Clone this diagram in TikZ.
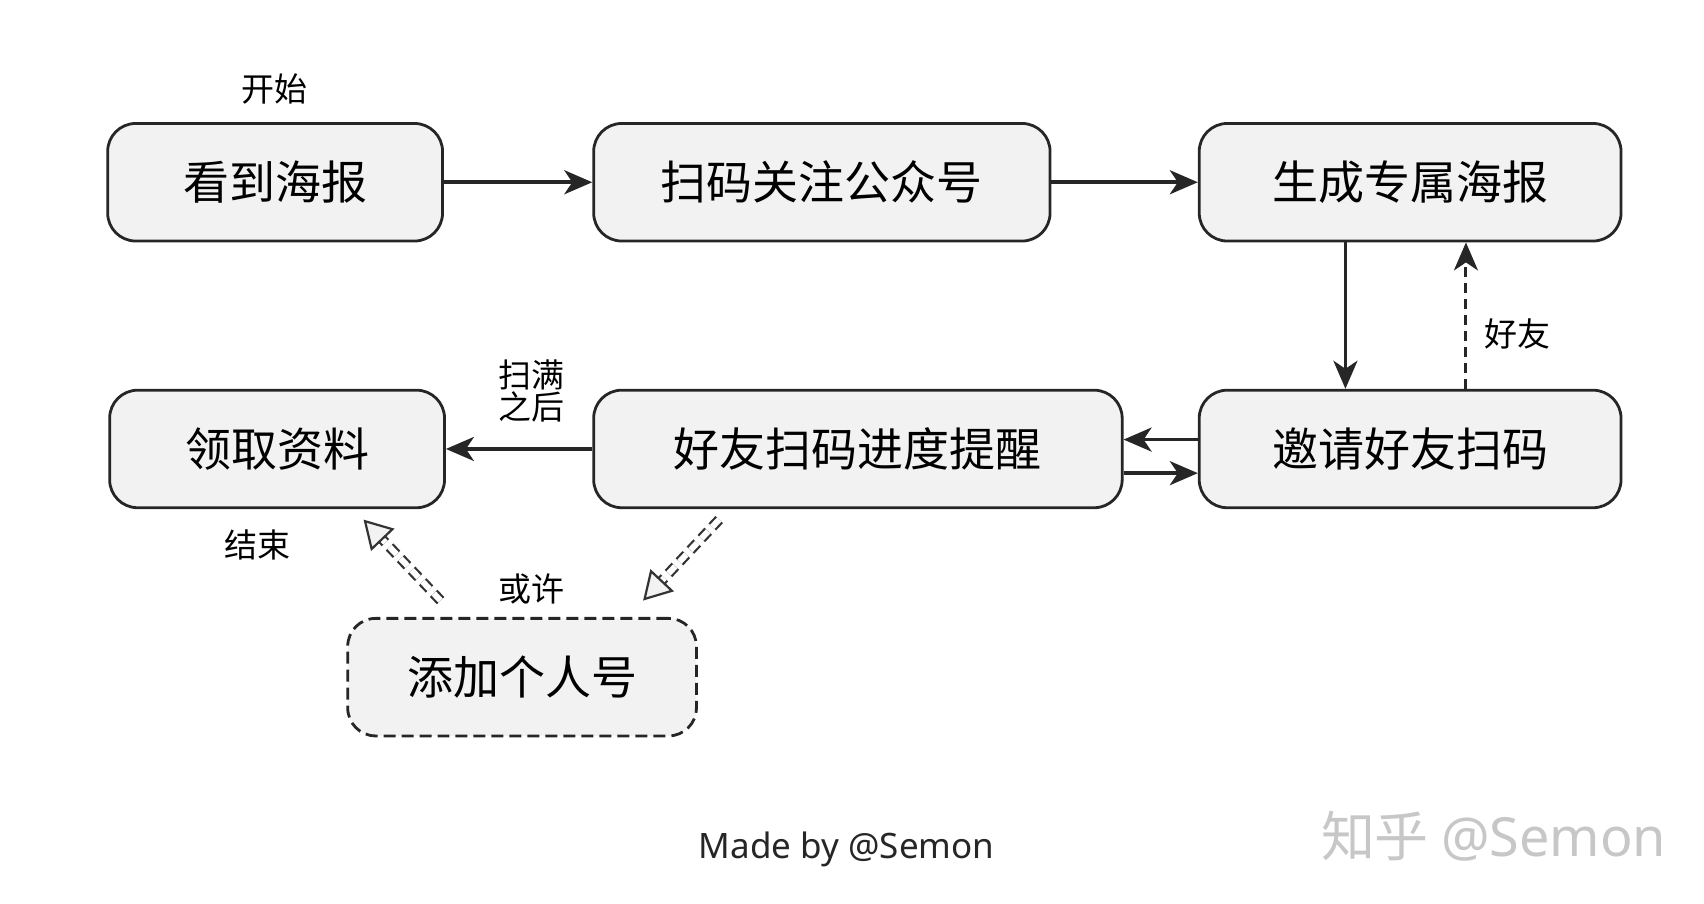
\documentclass[tikz,border=0pt]{standalone}
\usepackage{fontspec}
\setmainfont{Noto Sans CJK SC}
\setsansfont{Noto Sans}
\usetikzlibrary{arrows.meta}
\begin{document}
\begin{tikzpicture}[x=0.494pt,y=-0.494pt,
 box/.style={draw=black!85,line width=1.4pt,rounded corners=14pt,fill=black!5,minimum width=#1*0.494pt,minimum height=119*0.494pt,font=\fontsize{23}{25}\selectfont},
 lab/.style={font=\fontsize{16.5}{18}\selectfont,align=center,inner sep=1pt},
 arr/.style={line width=1.8pt,draw=black!85,-{Stealth[length=14pt,width=12pt,inset=4pt]}},
 darr/.style={double=white,double distance=3pt,line width=1.1pt,draw=black!80,dash pattern=on 5pt off 3pt,-{Triangle[open,length=14pt,width=16pt,fill=black!5]}}]
\useasboundingbox (0,0) rectangle (1725,915);
\node[box=339] (a) at (278.5,184.5) {看到海报};
\node[box=462] (b) at (832,184.5) {扫码关注公众号};
\node[box=427] (c) at (1427.5,184.5) {生成专属海报};
\node[box=339] (d) at (280.5,454.5) {领取资料};
\node[box=535] (e) at (868.5,454.5) {好友扫码进度提醒};
\node[box=427] (f) at (1427.5,454.5) {邀请好友扫码};
\node[box=353,dashed,dash pattern=on 6pt off 3pt] (g) at (528.5,685.5) {添加个人号};
\draw[arr] (a) -- (b);
\draw[arr] (b) -- (c);
\draw[arr] (c.south -| 1362,0) -- (f.north -| 1362,0);
\draw[arr,dash pattern=on 5pt off 3pt,line width=1.5pt] (f.north -| 1484,0) -- (c.south -| 1484,0);
\draw[arr] (f.west |- 0,445) -- (e.east |- 0,445);
\draw[arr] (e.east |- 0,479) -- (f.west |- 0,479);
\draw[arr] (e) -- (d);
\coordinate (p1) at (446,608); \coordinate (p2) at (368,526);
\coordinate (q1) at (728,526); \coordinate (q2) at (651,608);
\draw[darr] (p1) -- (p2);
\draw[darr] (q1) -- (q2);
\node[lab] (t1) at (278,90) {开始};
\node[lab,anchor=west] (t2) at (1500,338) {好友};
\node[lab] (t3) at (538,396) {扫满\\[-2pt]之后};
\node[lab] (t4) at (261,552) {结束};
\node[lab] (t5) at (538,596) {或许};
\node[font=\fontsize{17.5}{19}\selectfont\sffamily,text=black!85] (m) at (857,860) {Made by @Semon};
\node[font=\fontsize{27}{29}\selectfont,text=black!22] (w) at (1512,847) {知乎 \sffamily @Semon};
\end{tikzpicture}
\end{document}
